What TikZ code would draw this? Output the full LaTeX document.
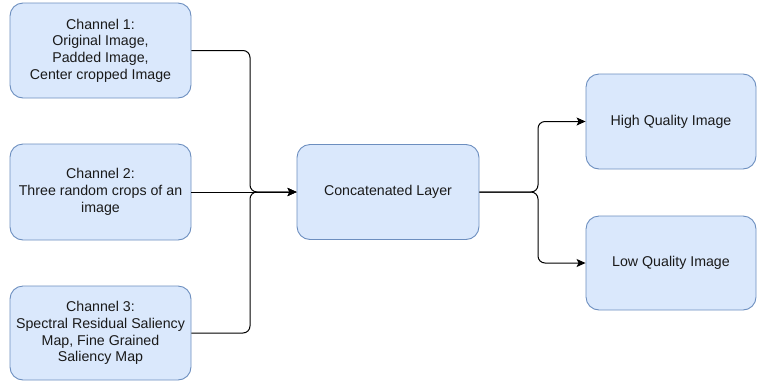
\documentclass[tikz,border=0pt]{standalone}
\usepackage{fontspec}
\setmainfont{Liberation Sans}
\usetikzlibrary{arrows.meta}
\definecolor{boxfill}{HTML}{DAE8FC}
\definecolor{boxline}{HTML}{6C8EBF}
\definecolor{txt}{HTML}{1A1A1A}
\tikzset{
  box/.style={draw=boxline, fill=boxfill, line width=0.9pt, rounded corners=13pt,
    align=center, text=txt, inner sep=2pt,
    font=\fontsize{14.2}{16.7}\selectfont},
  conn/.style={draw=black, line width=1pt, rounded corners=7pt,
    -{Stealth[length=9pt,width=8pt,inset=2pt]}},
}
\begin{document}
\begin{tikzpicture}[x=1pt,y=-1pt]
\useasboundingbox (0,0) rectangle (757,381);
\node[box, minimum width=181pt, minimum height=95pt] (c1) at (100.5,50.5)
  {Channel 1:\\Original Image,\\Padded Image,\\Center cropped Image};
\node[box, minimum width=181pt, minimum height=96pt] (c2) at (100.5,192)
  {Channel 2:\\Three random crops of an\\image};
\node[box, minimum width=181pt, minimum height=94pt] (c3) at (100.5,333)
  {Channel 3:\\Spectral Residual Saliency\\Map, Fine Grained\\Saliency Map};
\node[box, minimum width=182pt, minimum height=95pt] (cat) at (388,192)
  {Concatenated Layer};
\node[box, minimum width=170pt, minimum height=95pt] (hi) at (671,121.5)
  {High Quality Image};
\node[box, minimum width=170pt, minimum height=94pt] (lo) at (671,263)
  {Low Quality Image};
\coordinate (j) at (250,192);
\coordinate (k) at (538,192);
\draw[conn] (c1.east) -| (j) -- (cat.west);
\draw[conn] (c3.east) -| (j) -- (cat.west);
\draw[conn] (c2.east) -- (cat.west);
\draw[conn] (cat.east) -- (k) |- (hi.west);
\draw[conn] (cat.east) -- (k) |- (lo.west);
\end{tikzpicture}
\end{document}
